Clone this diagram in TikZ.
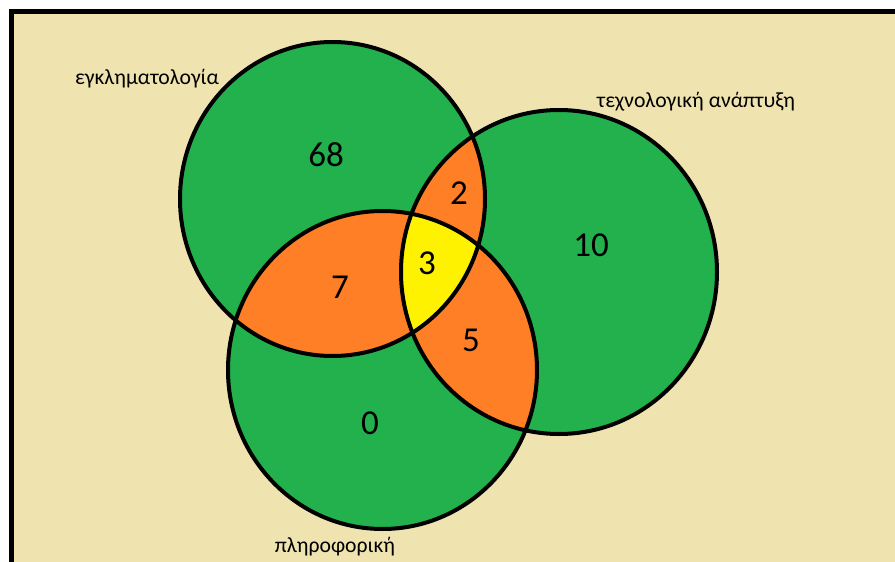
\documentclass[tikz,border=0pt]{standalone}
\usepackage{fontspec}
\setmainfont{Carlito}
\definecolor{tanbg}{HTML}{EFE4B0}
\definecolor{vgreen}{HTML}{22B14C}
\definecolor{vorange}{HTML}{FF7F27}
\definecolor{vyellow}{HTML}{FFF200}
\tikzset{
  setline/.style={draw=black, line width=4pt},
  numlabel/.style={font=\fontsize{35}{37}\selectfont, text=black, inner sep=0pt},
  setname/.style={font=\fontsize{21.7}{24}\selectfont, text=black, inner sep=0pt},
}
\begin{document}
\begin{tikzpicture}[x=1pt,y=-1pt]
\useasboundingbox[fill=white] (0,0) rectangle (895,562);
\fill[tanbg] (11.5,11.5) rectangle (895,562);
\draw[black, line width=5pt] (11.5,562) -- (11.5,11.5) -- (895,11.5);
% set regions
\def\setA{(332.5,199) ellipse [x radius=152.5, y radius=157]}
\def\setB{(559,272) ellipse [x radius=158, y radius=162]}
\def\setC{(382.5,370) ellipse [x radius=154.5, y radius=159]}
\fill[vgreen] \setA;
\fill[vgreen] \setB;
\fill[vgreen] \setC;
\begin{scope}
  \clip \setA;
  \fill[vorange] \setB;
  \fill[vorange] \setC;
\end{scope}
\begin{scope}
  \clip \setB;
  \fill[vorange] \setC;
\end{scope}
\begin{scope}
  \clip \setA;
  \clip \setB;
  \fill[vyellow] \setC;
\end{scope}
\draw[setline] \setA;
\draw[setline] \setB;
\draw[setline] \setC;
% labels
\node[setname] (la) at (147,79) {εγκληματολογία};
\node[setname] (lb) at (696,102) {τεχνολογική ανάπτυξη};
\node[setname] (lc) at (335,547) {πληροφορική};
% counts
\node[numlabel] (n68) at (326,155) {68};
\node[numlabel] (n2) at (459,193) {2};
\node[numlabel] (n10) at (591,245) {10};
\node[numlabel] (n3) at (427,263) {3};
\node[numlabel] (n7) at (340,287) {7};
\node[numlabel] (n5) at (471,340) {5};
\node[numlabel] (n0) at (370,423) {0};
\end{tikzpicture}
\end{document}
